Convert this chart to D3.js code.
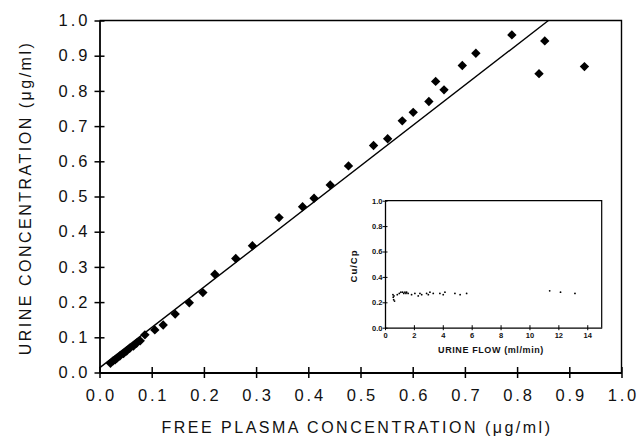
<!DOCTYPE html>
<html lang="en">
    <head>
        <meta charset="utf-8"/>
        <script src="https://cdnjs.cloudflare.com/ajax/libs/d3/7.8.5/d3.min.js"></script>
        <style>
            body { margin: 0; background: #fff; }
            svg { font-family: "Liberation Sans", Arial, sans-serif; }
        </style>
    </head>
    <body>
        <div id="chart"></div>
    </body>
    <script>
        // main plot: urine vs free plasma concentration
        var plasma = [0.021, 0.026, 0.030, 0.033, 0.039, 0.046, 0.052, 0.058, 0.065, 0.071,
                      0.078, 0.087, 0.106, 0.122, 0.145, 0.172, 0.198, 0.221, 0.261, 0.293,
                      0.344, 0.389, 0.411, 0.442, 0.477, 0.525, 0.552, 0.580, 0.601, 0.631,
                      0.644, 0.660, 0.695, 0.721, 0.790, 0.842, 0.853, 0.929];
        var urine = [0.026, 0.033, 0.036, 0.040, 0.047, 0.054, 0.061, 0.069, 0.075, 0.083,
                     0.090, 0.107, 0.121, 0.135, 0.166, 0.198, 0.227, 0.279, 0.324, 0.360,
                     0.440, 0.471, 0.495, 0.533, 0.587, 0.645, 0.664, 0.715, 0.739, 0.770,
                     0.827, 0.803, 0.872, 0.907, 0.959, 0.849, 0.942, 0.869];
        var fitX = [0.0, 0.860];
        var fitY = [0.013, 1.0];
        var mainTicks = [0, 0.1, 0.2, 0.3, 0.4, 0.5, 0.6, 0.7, 0.8, 0.9, 1.0];

        // inset: Cu/Cp vs urine flow
        var flow = [0.55, 0.57, 0.6, 0.62, 0.66, 0.85, 0.99, 1.1, 1.22, 1.3,
                    1.38, 1.45, 1.5, 1.6, 1.84, 2.07, 2.3, 2.42, 2.54, 2.88,
                    3.0, 3.11, 3.34, 3.8, 4.03, 4.15, 4.84, 5.2, 5.65, 11.4,
                    12.15, 13.15];
        var ratio = [0.26, 0.24, 0.22, 0.25, 0.21, 0.26, 0.27, 0.28, 0.28, 0.27,
                     0.28, 0.27, 0.28, 0.27, 0.26, 0.27, 0.25, 0.27, 0.26, 0.27,
                     0.26, 0.28, 0.27, 0.27, 0.26, 0.28, 0.27, 0.26, 0.27, 0.29,
                     0.28, 0.27];
        var flowTicks = [0, 2, 4, 6, 8, 10, 12, 14];
        var ratioTicks = [0, 0.2, 0.4, 0.6, 0.8, 1.0];

        var W = 639, H = 438;
        var svg = d3.select("#chart").append("svg")
            .attr("width", W).attr("height", H);

        // ---- main plot ----
        var m = {left: 99.5, top: 20.5, width: 522, height: 352};
        var g = svg.append("g").attr("transform", "translate(" + m.left + "," + m.top + ")");

        var x = d3.scaleLinear().domain([0, 1]).range([0, m.width]);
        var y = d3.scaleLinear().domain([0, 1]).range([m.height, 0]);

        // frame (top + right)
        g.append("path")
            .attr("d", "M0,0H" + m.width + "V" + m.height)
            .attr("fill", "none").attr("stroke", "#000").attr("stroke-width", 1.4);

        var xAxis = g.append("g")
            .attr("transform", "translate(0," + m.height + ")")
            .call(d3.axisBottom(x).tickValues(mainTicks).tickFormat(d3.format(".1f")).tickSizeOuter(0));
        xAxis.selectAll(".tick line").attr("y1", -5.5).attr("y2", 5.5);
        xAxis.selectAll(".tick text").attr("y", 17).attr("dy", "0.71em")
            .attr("font-size", 16.5).style("letter-spacing", "2.8px").attr("dx", 1.4);

        var yAxis = g.append("g")
            .call(d3.axisLeft(y).tickValues(mainTicks).tickFormat(d3.format(".1f")).tickSizeOuter(0));
        yAxis.selectAll(".tick line").attr("x1", -5).attr("x2", 5);
        yAxis.selectAll(".tick text").attr("x", -9).attr("font-size", 16.5)
            .style("letter-spacing", "3px");

        g.selectAll(".domain").attr("stroke-width", 1.8);
        g.selectAll(".tick line").attr("stroke-width", 1.5);
        g.selectAll(".tick text").attr("fill", "#111").attr("font-family", null);

        // fitted line
        var line = d3.line().x(function (d) { return x(d[0]); }).y(function (d) { return y(d[1]); });
        g.append("path")
            .datum(d3.zip(fitX, fitY))
            .attr("d", line)
            .attr("fill", "none").attr("stroke", "#000").attr("stroke-width", 1.4);

        // diamonds
        var diamond = d3.symbol().type(d3.symbolSquare).size(44);
        g.append("g").selectAll("path")
            .data(d3.zip(plasma, urine))
            .join("path")
            .attr("d", diamond)
            .attr("transform", function (d) {
                return "translate(" + x(d[0]) + "," + y(d[1]) + ") rotate(45)";
            })
            .attr("fill", "#000");

        // axis titles
        svg.append("text")
            .attr("x", 357).attr("y", 433)
            .attr("text-anchor", "middle")
            .attr("font-size", 16).style("letter-spacing", "2.5px")
            .attr("fill", "#111")
            .text("FREE PLASMA CONCENTRATION (\u03bcg/ml)");

        svg.append("text")
            .attr("transform", "translate(31,198) rotate(-90)")
            .attr("text-anchor", "middle")
            .attr("font-size", 16).style("letter-spacing", "2.5px")
            .attr("fill", "#111")
            .text("URINE CONCENTRATION (\u03bcg/ml)");

        // ---- inset ----
        var n = {left: 385, top: 200.7, width: 216.7, height: 127};
        var gi = svg.append("g").attr("transform", "translate(" + n.left + "," + n.top + ")");
        var xi = d3.scaleLinear().domain([0, 15]).range([0, n.width]);
        var yi = d3.scaleLinear().domain([0, 1]).range([n.height, 0]);

        gi.append("path")
            .attr("d", "M0,0H" + n.width + "V" + n.height)
            .attr("fill", "none").attr("stroke", "#000").attr("stroke-width", 1.2);

        var xiAxis = gi.append("g")
            .attr("transform", "translate(0," + n.height + ")")
            .call(d3.axisBottom(xi).tickValues(flowTicks).tickFormat(d3.format("d")).tickSizeOuter(0));
        xiAxis.selectAll(".tick line").attr("y1", -2.5).attr("y2", 2.5);
        xiAxis.selectAll(".tick text").attr("y", 5).attr("font-size", 7.5);

        var yiAxis = gi.append("g")
            .call(d3.axisLeft(yi).tickValues(ratioTicks).tickFormat(d3.format(".1f")).tickSizeOuter(0));
        yiAxis.selectAll(".tick line").attr("x1", -2.5).attr("x2", 2.5);
        yiAxis.selectAll(".tick text").attr("x", -2.5).attr("font-size", 7.5);

        gi.selectAll(".domain").attr("stroke-width", 1.3);
        gi.selectAll(".tick line").attr("stroke-width", 1);
        gi.selectAll(".tick text").attr("font-weight", "bold").attr("fill", "#111")
            .attr("font-family", null);

        gi.append("g").selectAll("circle")
            .data(d3.zip(flow, ratio))
            .join("circle")
            .attr("cx", function (d) { return xi(d[0]); })
            .attr("cy", function (d) { return yi(d[1]); })
            .attr("r", 0.9)
            .attr("fill", "#000");

        svg.append("text")
            .attr("x", 491).attr("y", 353)
            .attr("text-anchor", "middle")
            .attr("font-size", 9).attr("font-weight", "bold")
            .style("letter-spacing", "0.6px")
            .attr("fill", "#111")
            .text("URINE FLOW (ml/min)");

        svg.append("text")
            .attr("transform", "translate(357,266) rotate(-90)")
            .attr("text-anchor", "middle")
            .attr("font-size", 9.5).attr("font-weight", "bold")
            .style("letter-spacing", "1px")
            .attr("fill", "#111")
            .text("Cu/Cp");
    </script>
</html>
